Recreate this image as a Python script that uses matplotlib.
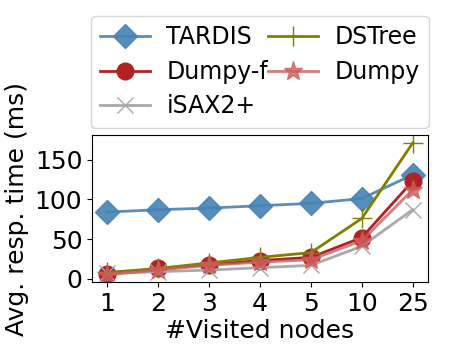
import matplotlib
matplotlib.use('Agg')
import matplotlib.pyplot as plt

nodes = ['1', '2', '3', '4', '5', '10', '25']
tardis = [84, 87, 89, 92, 95, 101, 131]
dstree = [8, 13, 20, 27, 33, 76, 171]
dumpy_f = [6, 13, 18, 23, 27, 52, 123]
dumpy = [5, 11, 17, 21, 24, 48, 112]
isax = [7, 9, 11, 14, 17, 41, 87]

plt.rcParams['font.size'] = 18

fig = plt.figure(figsize=(4.59, 3.6), dpi=100)
ax = fig.add_axes([92/459, 78/360, 336/459, 147/360])

x = range(len(nodes))
ax.plot(x, tardis, color='steelblue', marker='D', markersize=12, lw=2, alpha=0.9, label='TARDIS')
ax.plot(x, dumpy_f, color='firebrick', marker='o', markersize=12, lw=2, label='Dumpy-f')
ax.plot(x, isax, color='darkgray', marker='x', markersize=12, lw=2, label='iSAX2+')
ax.plot(x, dstree, color='olive', marker='+', markersize=14, lw=2, label='DSTree')
ax.plot(x, dumpy, color='indianred', marker='*', markersize=14, lw=2, alpha=0.8, label='Dumpy')

ax.set_xticks(list(x))
ax.set_xticklabels(nodes)
ax.set_yticks([0, 50, 100, 150])
ax.set_xlim(-0.3, 6.3)
ax.set_ylim(-4, 181)
ax.set_xlabel('#Visited nodes', labelpad=2)
ax.set_ylabel('Avg. resp. time (ms)')

ax.legend(ncol=2, loc='lower center', bbox_to_anchor=(0.5, 1.0), fontsize=17,
          columnspacing=0.0, handletextpad=0.7, handlelength=2.1,
          borderaxespad=0.3, labelspacing=0.45)

fig.savefig('out.png', dpi=100)
